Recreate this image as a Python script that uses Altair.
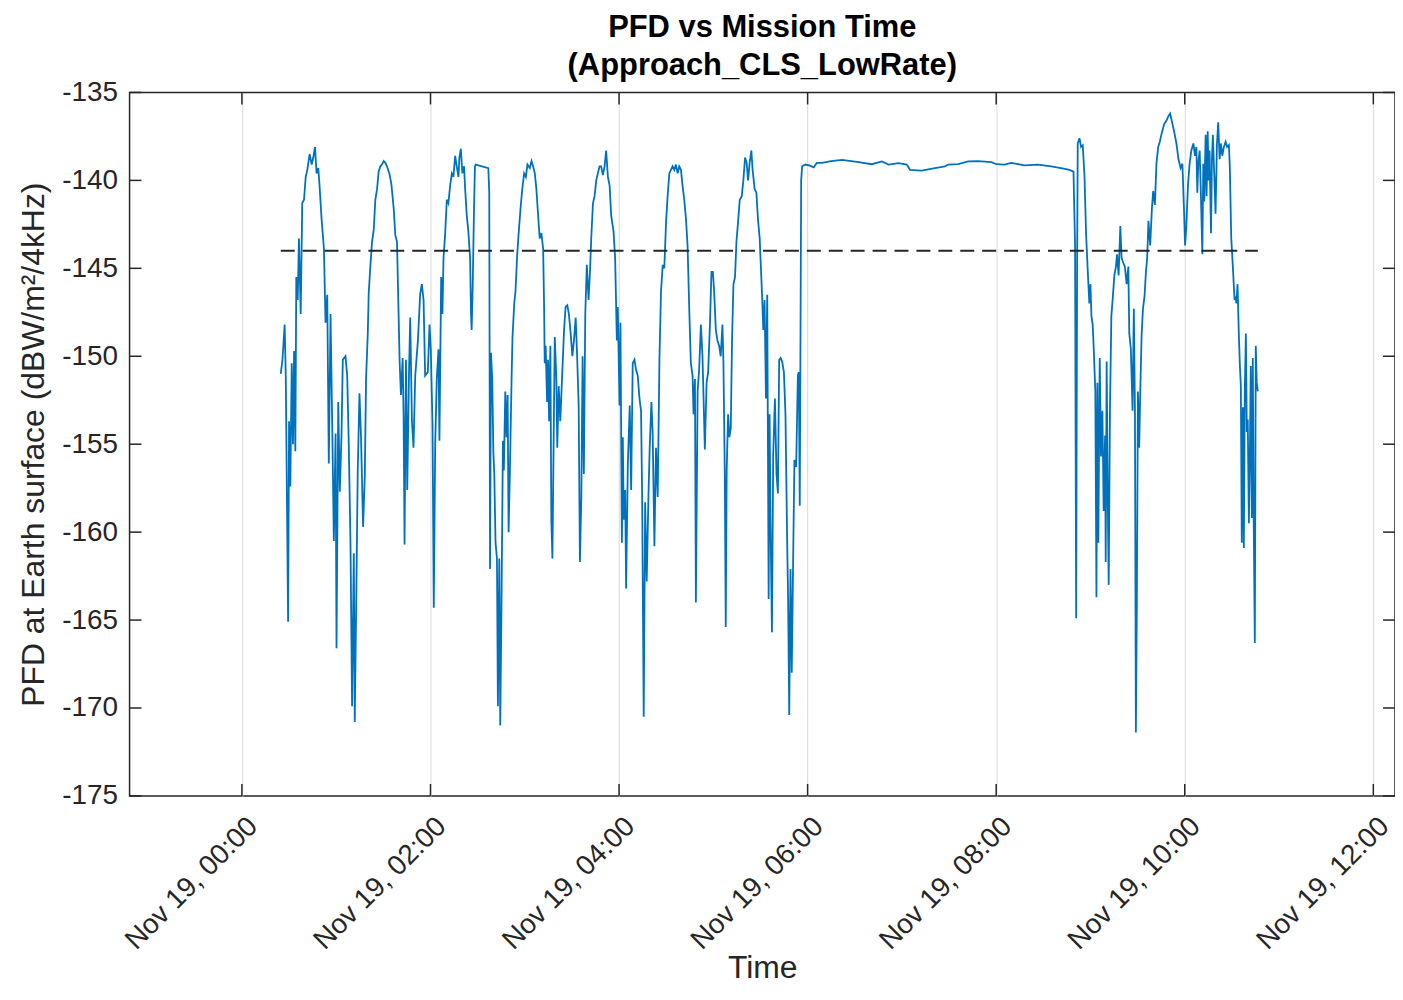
import altair as alt
import pandas as pd

# Mission time in minutes after Nov 19 00:00, and PFD in dBW/m^2/4kHz
minutes = [
    24.7, 25.8, 27.2, 27.9, 29.4, 30.0, 30.8, 31.7, 32.5, 33.2, 34.0, 34.6, 35.5, 36.3, 37.4, 38.4, 39.5, 40.6, 41.6, 43.1,
    44.4, 45.4, 46.5, 47.5, 48.6, 49.4, 50.7, 52.2, 53.2, 54.3, 55.3, 56.4, 57.5, 58.5, 59.6, 60.2, 61.3, 62.3, 63.4, 64.2,
    65.9, 67.0, 68.0, 69.1, 70.1, 71.2, 71.8, 72.7, 73.7, 74.8, 75.8, 77.1, 78.2, 79.0, 80.1, 80.7, 81.8, 82.8, 83.9, 84.9,
    86.0, 87.0, 88.1, 89.1, 90.2, 91.3, 92.3, 93.8, 95.1, 96.6, 97.6, 98.7, 99.7, 100.4, 101.2, 102.3, 102.9, 103.5, 104.4, 105.2,
    106.3, 107.1, 108.2, 109.2, 110.3, 112.0, 113.4, 114.5, 115.6, 116.6, 118.3, 119.4, 120.2, 121.3, 122.1, 123.0, 124.0,
    125.1, 125.7, 126.8, 127.6, 128.3, 129.3, 130.4, 131.4, 132.5, 133.6, 134.6, 135.7, 136.7, 137.8, 138.4, 139.3, 140.3, 141.4,
    142.0, 143.1, 144.1, 145.2, 145.8, 146.2, 146.9, 147.7, 148.3, 148.8, 156.8, 157.4, 157.9, 158.5, 159.3, 160.0, 160.6, 161.4,
    162.3, 162.9, 163.8, 164.4, 165.2, 166.1, 166.7, 167.6, 168.4, 169.1, 169.7, 170.5, 171.6, 172.2, 173.3, 174.1, 175.2, 176.2,
    177.3, 178.4, 179.6, 180.7, 181.7, 183.2, 184.3, 185.3, 186.4, 187.4, 188.5, 189.5, 190.6, 191.7, 192.3, 192.7, 193.3, 194.2,
    194.8, 195.5, 196.3, 196.9, 197.6, 198.4, 199.1, 200.1, 200.7, 201.6, 202.6, 203.7, 205.0, 206.0, 207.1, 208.1, 209.2, 210.3,
    211.3, 212.4, 213.4, 214.3, 215.1, 216.0, 216.8, 217.6, 218.5, 219.5, 220.6, 221.5, 222.3, 223.4, 224.4, 225.5, 226.5, 227.6,
    228.6, 229.7, 230.8, 231.8, 232.9,
    234.0, 235.0, 236.5, 237.5, 238.6, 239.2, 240.3, 240.9, 241.8, 242.4, 243.0, 243.9, 244.5, 245.6, 246.8, 247.7, 248.7, 249.8,
    250.9, 251.9, 253.0, 254.0, 254.7, 255.7, 256.6, 257.6, 258.7, 259.5, 260.6, 261.4, 262.5, 263.5, 264.6, 265.7, 266.7, 267.8,
    268.8, 269.9, 270.9, 272.0, 273.0, 274.1, 275.2, 276.2, 277.3, 278.3, 279.4, 280.4, 281.5, 282.6, 283.6, 284.7, 285.7, 286.8,
    287.4, 288.3, 288.9, 290.0, 291.0, 292.1, 293.1, 294.6, 295.7, 296.7, 297.8, 298.8, 299.7, 300.5, 301.6, 302.6, 303.7, 304.7,
    305.8, 306.4, 307.3, 307.9, 308.5, 309.4, 310.2, 311.1, 311.9, 312.8, 313.8, 314.7, 315.7, 316.8, 318.1, 319.1, 320.2, 321.2,
    322.1, 323.1, 324.2, 325.0, 326.3, 327.4, 328.4, 329.5, 330.1, 331.0, 331.8, 332.6, 333.5, 334.3, 335.2, 335.8, 336.4, 337.3,
    338.1, 339.2, 340.2, 341.1, 341.9, 342.8, 343.8, 344.9, 345.9, 347.0, 347.6, 348.3, 349.1, 349.9, 350.8, 351.6, 352.7, 353.8,
    354.4, 355.0, 355.9, 356.5,
    358.6, 361.0, 363.9, 365.9, 369.1, 375.0, 381.9, 392.4, 400.9, 407.2, 411.5, 417.8, 423.1, 425.2, 432.6, 441.0, 447.4, 449.5,
    455.8, 462.2, 468.5, 477.0, 480.1, 485.4, 489.6, 498.1, 506.6, 515.0, 521.3,
    526.7, 529.2, 530.2, 530.9, 531.5, 531.9, 533.0, 534.0, 535.1, 536.2, 537.2, 538.3, 539.3, 540.0, 540.6, 541.4, 542.1, 543.1,
    543.8, 544.4, 545.0, 545.9, 546.7, 547.6, 548.4, 549.3, 549.7, 550.3, 551.0, 551.6, 552.4, 553.3, 554.1, 555.2, 556.2, 556.9,
    557.9, 559.0, 559.8, 560.9, 561.9, 563.0, 564.1, 564.7, 565.7, 566.8, 567.6, 568.3, 568.9, 569.5, 570.2, 571.0, 571.7, 572.5,
    573.4, 574.4, 575.3, 576.1, 576.9, 578.0, 579.1, 579.9, 581.0, 582.0, 583.1, 584.1, 585.4, 586.9, 588.4, 589.6, 590.7, 591.7,
    593.2, 594.7, 596.0, 597.4, 598.5, 599.5, 600.2, 601.0, 602.1, 603.1, 604.2, 605.5, 606.5, 607.4, 608.0, 608.6, 609.5, 610.3,
    611.2, 611.8, 612.4, 613.3, 613.9, 614.6, 615.2, 615.8, 616.7, 617.3, 617.9, 618.8, 619.6, 620.5, 621.3, 622.2, 623.0, 623.9,
    624.9, 626.0, 627.0, 628.1, 628.7, 629.6, 630.6, 631.7, 632.3, 632.9, 633.6, 634.4, 635.1, 635.7, 636.3, 637.0, 637.6, 638.2,
    638.9, 639.5, 640.1, 640.8, 641.4, 642.0, 642.7, 643.3, 643.9, 644.6, 645.2, 645.8, 646.5,
]
pfd = [
    -151.0, -150.2, -148.2, -151.1, -165.1, -153.7, -157.4, -150.4, -155.0, -149.7, -155.4, -145.5, -146.8, -143.3, -147.6, -141.3, -141.1, -139.8, -139.4, -138.5,
    -139.1, -138.7, -138.1, -139.6, -139.3, -140.3, -142.2, -143.9, -148.1, -146.5, -156.1, -147.6, -154.1, -160.5, -154.4, -166.6, -152.6, -157.7, -154.4, -150.2,
    -150.0, -151.1, -155.0, -160.7, -169.9, -161.2, -170.8, -164.3, -156.6, -152.1, -154.6, -159.7, -156.8, -151.3, -148.7, -146.4, -144.8, -143.5, -142.8, -141.1,
    -140.5, -139.5, -139.2, -139.1, -138.9, -139.0, -139.2, -139.6, -140.2, -141.6, -143.1, -143.5, -147.6, -150.4, -152.2, -150.1, -153.5, -160.7, -150.2, -157.6,
    -151.1, -147.8, -153.7, -155.2, -151.1, -149.1, -146.5, -145.9, -146.8, -151.1, -150.9, -148.2, -149.6, -153.9, -164.3, -155.0, -151.3,
    -149.6, -154.8, -145.5, -147.6, -144.4, -143.1, -141.1, -141.3, -140.3, -139.6, -139.8, -138.6, -139.2, -139.8, -138.7, -138.2, -139.6, -139.2,
    -140.4, -142.0, -142.9, -144.4, -147.6, -148.5, -145.9, -141.6, -139.2, -139.1, -139.3, -140.7, -162.1, -149.8, -151.3, -155.4, -156.7, -160.6,
    -161.5, -169.9, -161.5, -171.0, -164.1, -154.8, -156.5, -152.0, -154.6, -152.2, -160.0, -156.7, -151.3, -148.9, -147.0, -146.3, -144.2, -142.9,
    -141.6, -140.5, -139.6, -139.8, -139.1, -139.3, -138.9, -139.2, -139.6, -140.5, -142.0, -143.3, -143.0, -143.9, -147.2, -150.4, -149.4, -152.6,
    -150.2, -153.7, -149.4, -159.3, -161.5, -154.6, -148.9, -151.3, -155.2, -151.7, -153.7, -151.3, -148.5, -147.2, -147.1, -147.6, -148.7, -150.0,
    -149.1, -147.8, -150.2, -152.8, -161.7, -158.0, -150.0, -156.7, -147.6, -144.8, -146.8, -145.2, -143.3, -141.3, -140.9, -140.0, -139.6, -139.2,
    -139.2, -139.7, -139.2, -138.3, -139.8,
    -140.3, -142.0, -142.9, -144.4, -149.1, -147.2, -152.8, -148.1, -160.6, -154.6, -159.3, -157.6, -163.2, -156.1, -152.8, -157.6, -150.4, -150.2,
    -150.8, -151.1, -152.4, -153.1, -158.0, -170.5, -158.3, -162.8, -158.0, -155.2, -152.6, -154.4, -160.8, -155.2, -158.0, -150.2, -146.3, -144.8,
    -145.0, -142.4, -140.9, -139.6, -139.4, -139.2, -139.4, -139.1, -139.6, -139.2, -139.4, -140.3, -141.1, -142.2, -143.7, -147.4, -150.4, -151.1,
    -153.3, -151.3, -164.0, -152.0, -150.7, -148.2, -150.0, -155.3, -151.5, -150.9, -148.3, -145.2, -145.2, -146.3, -148.5, -149.1, -149.4, -150.0,
    -148.2, -150.2, -156.7, -165.4, -156.5, -153.3, -154.6, -154.1, -149.1, -145.9, -145.5, -143.5, -142.4, -141.1, -140.9, -140.0, -138.7, -139.0,
    -140.0, -139.0, -138.3, -139.4, -140.5, -140.7, -142.2, -143.3, -144.6, -146.5, -148.5, -146.8, -152.4, -146.5, -163.8, -153.3, -159.5, -165.7,
    -155.6, -152.4, -156.7, -157.8, -150.2, -150.1, -150.3, -150.9, -153.3, -160.6, -163.9, -170.4, -162.1, -168.0, -161.5, -155.9, -156.3, -151.1,
    -150.9, -158.5, -140.0, -139.2,
    -139.1, -139.15, -139.26, -139.0, -139.0, -138.9, -138.83, -138.96, -139.08, -138.92, -139.1, -139.02, -139.1, -139.4, -139.45, -139.3, -139.2, -139.1,
    -139.08, -138.92, -138.9, -138.96, -139.08, -139.1, -139.0, -139.15, -139.1, -139.2, -139.3,
    -139.4, -139.5, -143.7, -164.9, -144.9, -137.9, -137.6, -138.1, -138.0, -139.75, -143.0, -145.2, -147.0, -145.9, -147.7, -148.2, -149.6, -152.0,
    -163.7, -151.5, -160.6, -150.1, -155.7, -153.1, -158.8, -154.5, -161.7, -150.3, -158.1, -163.0, -153.1, -147.7, -146.8, -145.4, -144.9, -144.2,
    -145.4, -142.6, -144.4, -144.7, -144.9, -145.9, -144.9, -148.7, -149.6, -153.1, -147.3, -153.1, -171.4, -164.4, -152.0, -155.2, -152.0, -148.9,
    -147.3, -146.6, -145.2, -144.4, -142.3, -143.7, -141.6, -140.6, -141.4, -139.05, -138.1, -137.8, -137.3, -136.8, -136.6, -136.35, -136.2, -136.6,
    -137.2, -137.9, -138.8, -139.3, -139.05, -141.6, -143.7, -142.6, -140.2, -139.05, -138.3, -137.9, -138.6, -138.1, -140.7, -139.05, -138.3, -140.9,
    -144.2, -139.05, -141.2, -137.4, -140.9, -137.2, -140.0, -138.3, -143.0, -138.8, -137.4, -139.75, -141.9, -137.9, -136.7, -138.8, -137.9, -138.6,
    -138.1, -137.8, -138.1, -138.0, -139.3, -143.3, -144.9, -146.8, -146.6, -147.0, -145.9, -148.7, -150.55, -151.7, -160.6, -152.9, -160.9, -152.0,
    -148.7, -154.3, -153.6, -159.5, -156.0, -150.55, -159.2, -150.1, -159.5, -166.3, -149.4, -151.5, -152.0,
]

threshold = -144.0
x_ticks = [0, 120, 240, 360, 480, 600, 720]
y_ticks = [-175, -170, -165, -160, -155, -150, -145, -140, -135]
x_domain = [-71.5, 733.8]
y_domain = [-175, -135]

W, H = 1270, 706
FONT = "Liberation Sans"
INK = "#262626"

df = pd.DataFrame({"minutes": minutes, "pfd": pfd})
thr = pd.DataFrame({"start": [minutes[0]], "end": [minutes[-1]], "level": [threshold]})
xt = pd.DataFrame({"minutes": x_ticks})
yt = pd.DataFrame({"pfd": y_ticks})

xscale = alt.Scale(domain=x_domain, nice=False, zero=False)
yscale = alt.Scale(domain=y_domain, nice=False, zero=False)

label_expr = ("'Nov 19, ' + (floor(datum.value / 60) < 10 ? '0' : '') + "
              "floor(datum.value / 60) + ':00'")

x_axis = alt.Axis(
    values=x_ticks, labelExpr=label_expr, labelAngle=315, labelAlign="right",
    labelBaseline="middle", labelFontSize=28, labelFont=FONT, labelColor=INK,
    labelPadding=26, labelOffset=11, ticks=False, domain=False, grid=True,
    gridColor="#dfdfdf", gridWidth=1.2, title="Time", titleFont=FONT,
    titleFontSize=32, titleFontWeight="normal", titleColor=INK,
    titleBaseline="alphabetic", titleY=182,
)
y_axis = alt.Axis(
    values=y_ticks, labelExpr="'' + datum.value", labelFontSize=28, labelFont=FONT,
    labelColor=INK, labelPadding=12, ticks=False, domain=False, grid=False,
    title="PFD at Earth surface (dBW/m²/4kHz)", titleFont=FONT, titleFontSize=32,
    titleFontWeight="normal", titleColor=INK, titleBaseline="middle", titleX=-96,
)

X = alt.X("minutes:Q", scale=xscale, axis=x_axis)
Y = alt.Y("pfd:Q", scale=yscale, axis=y_axis)

line = alt.Chart(df).mark_line(color="#0072BD", strokeWidth=1.8).encode(x=X, y=Y)

dash = alt.Chart(thr).mark_rule(color=INK, strokeWidth=1.8, strokeDash=[14, 8]).encode(
    x=alt.X("start:Q", scale=xscale, axis=x_axis),
    x2="end:Q",
    y=alt.Y("level:Q", scale=yscale, axis=y_axis),
)

tick_style = dict(color=INK, strokeWidth=1.5)
bottom_ticks = alt.Chart(xt).mark_rule(**tick_style).encode(
    x=X, y=alt.value(H), y2=alt.value(H - 12))
top_ticks = alt.Chart(xt).mark_rule(**tick_style).encode(
    x=X, y=alt.value(0), y2=alt.value(12))
left_ticks = alt.Chart(yt).mark_rule(**tick_style).encode(
    y=Y, x=alt.value(0), x2=alt.value(12))
right_ticks = alt.Chart(yt).mark_rule(**tick_style).encode(
    y=Y, x=alt.value(W - 12), x2=alt.value(W))

chart = alt.layer(line, dash, bottom_ticks, top_ticks, left_ticks, right_ticks).properties(
    width=W, height=H,
    background="white",
    autosize=alt.AutoSizeParams(type="none"),
    title=alt.TitleParams(
        text=["PFD vs Mission Time", "(Approach_CLS_LowRate)"],
        font=FONT, fontSize=31, fontWeight="bold", color="#000000",
        lineHeight=38, anchor="middle", offset=-3.5,
    ),
    padding={"left": 122, "top": 83, "right": 0, "bottom": 189},
).configure_view(stroke=INK, strokeWidth=1.5)

chart.save("out.html", embed_options={"renderer": "svg", "actions": False})
